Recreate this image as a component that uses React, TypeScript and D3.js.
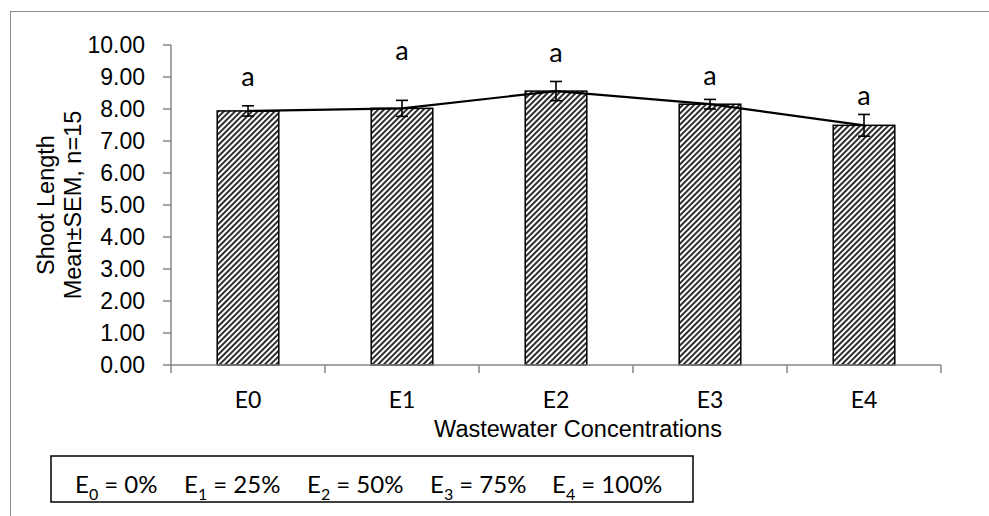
import React from "react";
import * as d3 from "d3";

const categories = ["E0", "E1", "E2", "E3", "E4"];
const means = [7.94, 8.02, 8.56, 8.15, 7.49];
const sems = [0.16, 0.25, 0.3, 0.15, 0.34];
const letters = ["a", "a", "a", "a", "a"];
const letterPos = [8.72, 9.53, 9.47, 8.75, 8.12];
const yTicks = [0, 1, 2, 3, 4, 5, 6, 7, 8, 9, 10];
const legendItems = [
  { sub: "0", pct: "0%" },
  { sub: "1", pct: "25%" },
  { sub: "2", pct: "50%" },
  { sub: "3", pct: "75%" },
  { sub: "4", pct: "100%" },
];

const W = 989;
const H = 516;
const ARIAL = "'Liberation Sans', Arial, sans-serif";
const CAL = "Lato, 'Open Sans', sans-serif";

export default function App() {
  const x0 = 171, x1 = 941, yTop = 45, yBot = 365;
  const x = d3.scaleBand<string>().domain(categories).range([x0, x1]).paddingInner(0).paddingOuter(0);
  const y = d3.scaleLinear().domain([0, 10]).range([yBot, yTop]);
  const bw = x.bandwidth() * 0.4;
  const cx = (c: string) => (x(c) as number) + x.bandwidth() / 2;
  const line = d3.line<number>().x((_, i) => cx(categories[i])).y((d) => y(d));
  const boundaries = [...categories.map((c) => x(c) as number), x1];
  const legendX = [75, 184, 307, 430, 552];

  return (
    <div style={{ position: "absolute", left: 0, top: 0 }}>
      <svg width={W} height={H} style={{ display: "block", background: "#fff" }}>
        <defs>
          <pattern id="hatch" patternUnits="userSpaceOnUse" width={4} height={4} patternTransform="rotate(45)">
            <rect width={4} height={4} fill="#ffffff" />
            <rect x={0} y={0} width={2} height={4} fill="#2e2e2e" />
          </pattern>
        </defs>
        {/* chart area border */}
        <rect x={10.5} y={11.5} width={W + 20} height={H + 20} fill="none" stroke="#8c8c8c" strokeWidth={1} />

        {/* y axis */}
        <line x1={x0} x2={x0} y1={yTop} y2={yBot} stroke="#868686" strokeWidth={1.5} />
        {yTicks.map((t) => (
          <g key={t}>
            <line x1={x0 - 8} x2={x0} y1={y(t)} y2={y(t)} stroke="#868686" strokeWidth={1.5} />
            <text x={145} y={y(t)} dy="0.36em" textAnchor="end" fontFamily={ARIAL} fontSize={23} fill="#000">
              {t.toFixed(2)}
            </text>
          </g>
        ))}

        {/* bars */}
        {categories.map((c, i) => (
          <rect key={c} x={cx(c) - bw / 2} y={y(means[i])} width={bw} height={y(0) - y(means[i])}
            fill="url(#hatch)" stroke="#000" strokeWidth={1.5} />
        ))}

        {/* x axis */}
        <line x1={x0} x2={x1} y1={yBot} y2={yBot} stroke="#868686" strokeWidth={1.5} />
        {boundaries.map((b, i) => (
          <line key={i} x1={b} x2={b} y1={yBot} y2={yBot + 8} stroke="#868686" strokeWidth={1.5} />
        ))}

        {/* line through means */}
        <path d={line(means) || ""} fill="none" stroke="#000" strokeWidth={2.2} />

        {/* error bars */}
        {categories.map((c, i) => {
          const xc = cx(c);
          const hi = y(means[i] + sems[i]);
          const lo = y(means[i] - sems[i]);
          return (
            <g key={c} stroke="#000" strokeWidth={1.6}>
              <line x1={xc} x2={xc} y1={hi} y2={lo} />
              <line x1={xc - 6} x2={xc + 6} y1={hi} y2={hi} />
              <line x1={xc - 6} x2={xc + 6} y1={lo} y2={lo} />
            </g>
          );
        })}

        {/* significance letters */}
        {categories.map((c, i) => (
          <text key={c} x={cx(c)} y={y(letterPos[i])} textAnchor="middle" fontFamily={CAL} fontSize={27} fill="#000">
            {letters[i]}
          </text>
        ))}

        {/* category labels */}
        {categories.map((c) => (
          <text key={c} x={cx(c)} y={408} textAnchor="middle" fontFamily={CAL} fontSize={23} fill="#000">
            {c}
          </text>
        ))}

        {/* axis titles */}
        <text x={578} y={437} textAnchor="middle" fontFamily={ARIAL} fontSize={23.5} fill="#000">
          Wastewater Concentrations
        </text>
        <text transform={`translate(54,205) rotate(-90)`} textAnchor="middle" fontFamily={ARIAL} fontSize={23.5} fill="#000">
          Shoot Length
        </text>
        <text transform={`translate(81,205) rotate(-90)`} textAnchor="middle" fontFamily={ARIAL} fontSize={23.5} fill="#000">
          Mean±SEM, n=15
        </text>

        {/* legend box */}
        <rect x={51} y={456} width={642} height={46} fill="#fff" stroke="#000" strokeWidth={1.5} />
        {legendItems.map((it, i) => (
          <text key={i} x={legendX[i]} y={493} fontFamily={CAL} fontSize={24} fill="#000">
            E
            <tspan fontSize={16} dy={7}>{it.sub}</tspan>
            <tspan dy={-7}>{` = ${it.pct}`}</tspan>
          </text>
        ))}
      </svg>
    </div>
  );
}
